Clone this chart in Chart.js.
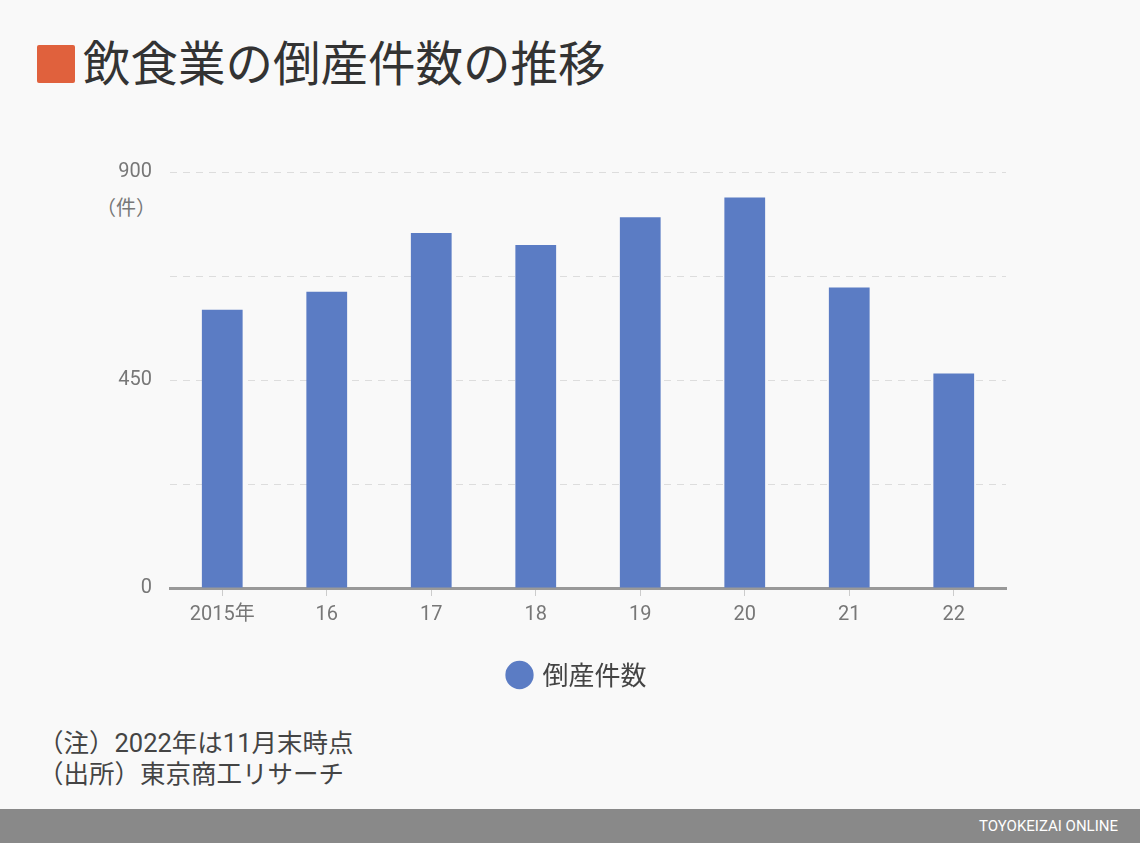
<!DOCTYPE html>
<html lang="ja">
<head>
<meta charset="utf-8">
<script src="https://cdn.jsdelivr.net/npm/chart.js@4.4.0/dist/chart.umd.min.js"></script>
<style>
  body { margin: 0; width: 1140px; height: 843px; background: #f9f9f9; position: relative; overflow: hidden;
         font-family: Roboto, "Noto Sans CJK JP", sans-serif; }
  .title { position: absolute; left: 37px; top: 26px; font-size: 47.5px; color: #333; font-family: "Noto Sans CJK JP", sans-serif; font-weight: 400; }
  .title .sq { display: inline-block; width: 38px; height: 38px; background: #e0613d; border-radius: 2px; vertical-align: -2px; margin-right: 8px; }
  .unit { position: absolute; left: 96px; top: 192px; font-size: 20px; color: #777; font-family: "Noto Sans CJK JP", sans-serif; }
  .wrap { position: absolute; left: 0; top: 142px; width: 1140px; height: 556px; }
  .notes { position: absolute; left: 38px; top: 728px; font-size: 25.5px; line-height: 31px; color: #444; font-family: Roboto, "Noto Sans CJK JP", sans-serif; }
  .footer { position: absolute; left: 0; top: 809px; width: 1140px; height: 34px; background: #898989; }
  .footer span { position: absolute; right: 22px; top: 8px; color: #fff; font-size: 15px; font-family: Roboto, sans-serif; }
</style>
</head>
<body>
<div class="title"><span class="sq"></span>飲食業の倒産件数の推移</div>
<div class="unit">（件）</div>
<div class="wrap"><canvas id="chart"></canvas></div>
<div class="notes">（注）2022年は11月末時点<br>（出所）東京商工リサーチ</div>
<div class="footer"><span>TOYOKEIZAI ONLINE</span></div>
<script>
// 飲食業の倒産件数（東京商工リサーチ）
var years = ['2015年', '16', '17', '18', '19', '20', '21', '22'];
var bankruptcies = [602, 641, 768, 742, 802, 845, 650, 464];
var yTicks = [0, 450, 900];

// 凡例をプロット領域の中央に寄せる
var legendShift = {
    id: 'legendShift',
    afterLayout: function(chart) {
        if (chart.legend) chart.legend.left = chart.chartArea.left - 20;
    }
};

document.addEventListener('DOMContentLoaded', function() {
    var ctx = document.getElementById('chart');
    new Chart(ctx, {
        type: 'bar',
        data: {
            labels: years,
            datasets: [{
                label: '倒産件数',
                data: bankruptcies,
                backgroundColor: '#5b7cc4',
                barPercentage: 0.39,
                categoryPercentage: 1
            }]
        },
        plugins: [legendShift],
        options: {
            responsive: true,
            maintainAspectRatio: false,
            animation: false,
            layout: { padding: { left: 100, right: 134, top: 20, bottom: 0 } },
            plugins: {
                tooltip: { enabled: false },
                legend: {
                    position: 'bottom',
                    labels: {
                        usePointStyle: true,
                        pointStyle: 'circle',
                        boxWidth: 20,
                        boxHeight: 20,
                        padding: 28,
                        color: '#444',
                        font: { size: 26, family: '"Noto Sans CJK JP", sans-serif' }
                    }
                }
            },
            scales: {
                x: {
                    grid: { offset: false, drawOnChartArea: false, color: '#ccc', tickLength: 8, lineWidth: 1 },
                    border: { color: '#999', width: 3 },
                    ticks: { color: '#777', padding: 7, font: { size: 20, family: 'Roboto, "Noto Sans CJK JP", sans-serif' } }
                },
                y: {
                    min: 0,
                    max: 900,
                    afterFit: function(s) { s.width = 70; },
                    ticks: {
                        stepSize: 225,
                        color: '#777',
                        padding: 18,
                        font: { size: 20, family: 'Roboto, sans-serif' },
                        callback: function(v) { return yTicks.indexOf(v) >= 0 ? v : ''; }
                    },
                    grid: { color: '#ddd', lineWidth: 1, drawTicks: false, tickLength: 0 },
                    border: { display: false, dash: [7, 6] }
                }
            }
        }
    });
});
</script>
</body>
</html>
